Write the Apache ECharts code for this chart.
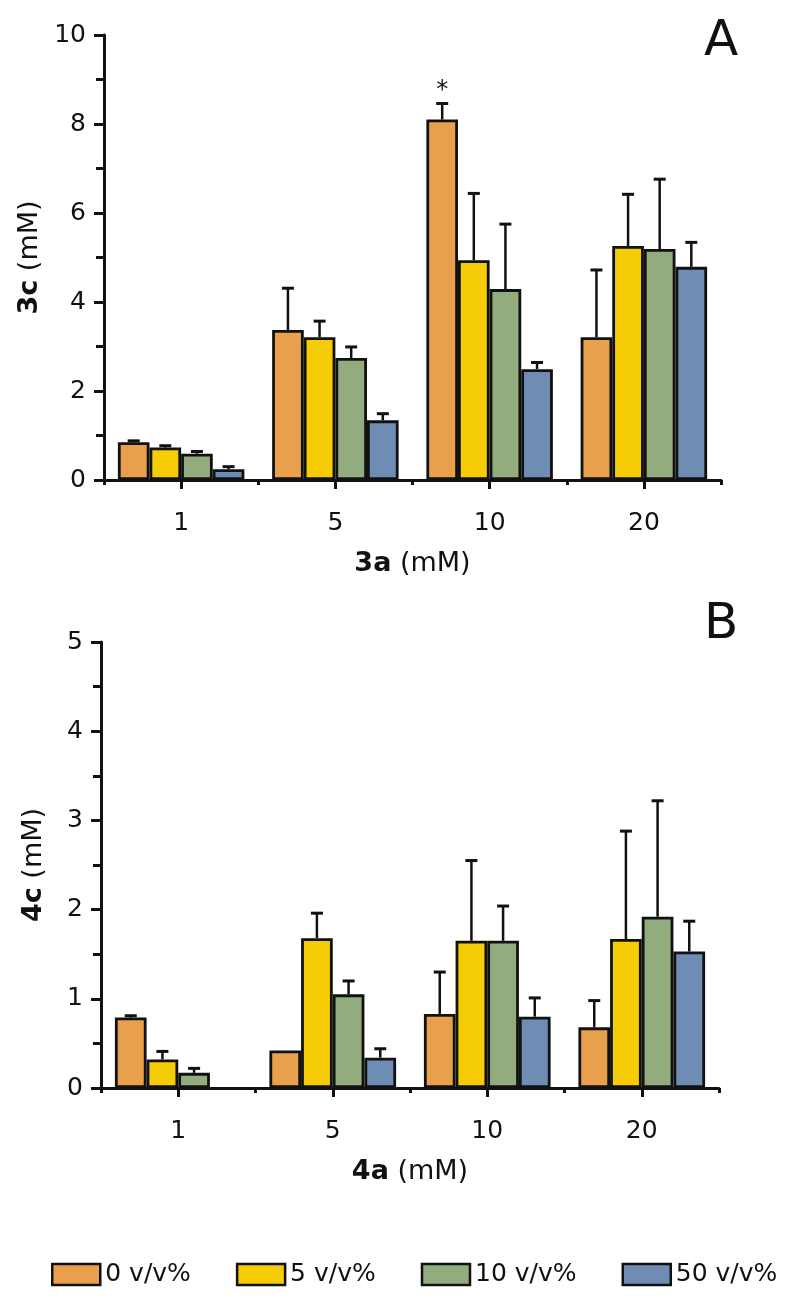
<!DOCTYPE html>
<html><head><meta charset="utf-8">
<script src="https://cdn.jsdelivr.net/npm/echarts@6/dist/echarts.min.js"></script>
<style>html,body{margin:0;padding:0;background:#fff}#c{width:800px;height:1301px}</style>
</head><body><div id="c"></div>
<script>
// ---- data ----
const categories = ['1', '5', '10', '20'];
const seriesNames = ['0 v/v%', '5 v/v%', '10 v/v%', '50 v/v%'];
const colors = ['#E8A04C', '#F5CC05', '#93AC7D', '#6F8DB4'];

// Panel A: 3c (mM) vs 3a (mM)
const a_0 = [0.85, 3.37, 8.10, 3.21];
const a_5 = [0.73, 3.21, 4.94, 5.26];
const a_10 = [0.59, 2.74, 4.29, 5.19];
const a_50 = [0.24, 1.34, 2.49, 4.79];
const aErr_0 = [0.03, 0.94, 0.36, 1.51];
const aErr_5 = [0.04, 0.36, 1.50, 1.16];
const aErr_10 = [0.05, 0.25, 1.46, 1.57];
const aErr_50 = [0.06, 0.15, 0.15, 0.55];
const aMarks_0 = ['', '', '*', ''];

// Panel B: 4c (mM) vs 4a (mM)
const b_0 = [0.79, 0.42, 0.83, 0.68];
const b_5 = [0.32, 1.68, 1.65, 1.67];
const b_10 = [0.17, 1.05, 1.65, 1.92];
const b_50 = [null, 0.34, 0.80, 1.53];
const bErr_0 = [0.02, 0, 0.47, 0.30];
const bErr_5 = [0.09, 0.28, 0.90, 1.21];
const bErr_10 = [0.05, 0.15, 0.39, 1.30];
const bErr_50 = [null, 0.10, 0.21, 0.34];

const aTicks = {min: 0, max: 10, interval: 2};
const bTicks = {min: 0, max: 5, interval: 1};

// ---- styling ----
const FONT = 'DejaVu Sans';
const INK = '#111';
const GAP = 0.18;

function errRender(vals, errs, marks, k) {
  return function (params, api) {
    const i = params.dataIndex;
    if (vals[i] == null || !errs[i]) return;
    const band = api.size([1, 0])[0];
    const bw = band * (1 - GAP) / 4;
    const base = api.coord([i, vals[i]]);
    const top = api.coord([i, vals[i] + errs[i]]);
    const x = base[0] + (k - 1.5) * bw;
    const children = [
      {type: 'line', shape: {x1: x, y1: base[1], x2: x, y2: top[1]}, style: {stroke: INK, lineWidth: 2.5}},
      {type: 'line', shape: {x1: x - 6, y1: top[1], x2: x + 6, y2: top[1]}, style: {stroke: INK, lineWidth: 3}}
    ];
    if (marks && marks[i]) {
      children.push({type: 'text', style: {text: marks[i], x: x, y: top[1] - 13, align: 'center', verticalAlign: 'middle', font: '24px ' + FONT, fill: INK}});
    }
    return {type: 'group', children: children};
  };
}

function yAx(grid, t, nameBold) {
  return {
    gridIndex: grid, type: 'value', min: t.min, max: t.max, interval: t.interval,
    name: '{b|' + nameBold + '} (mM)', nameLocation: 'middle', nameGap: 54, nameRotate: 90,
    nameTextStyle: {fontSize: 27, fontFamily: FONT, color: INK, rich: {b: {fontSize: 27, fontFamily: FONT, fontWeight: 'bold', color: INK}}},
    axisLine: {show: true, lineStyle: {color: INK, width: 3}},
    axisTick: {show: true, length: 10, lineStyle: {color: INK, width: 3}},
    minorTick: {show: true, splitNumber: 2, length: 8, lineStyle: {color: INK, width: 3}},
    axisLabel: {fontSize: 25, fontFamily: FONT, color: INK, margin: 18},
    splitLine: {show: false}
  };
}
function xAx(grid, nameBold) {
  return {
    gridIndex: grid, type: 'category', data: categories, position: 'bottom',
    name: '{b|' + nameBold + '} (mM)', nameLocation: 'middle', nameGap: 70,
    nameTextStyle: {fontSize: 27, fontFamily: FONT, color: INK, verticalAlign: 'top', rich: {b: {fontSize: 27, fontFamily: FONT, fontWeight: 'bold', color: INK}}},
    axisLine: {show: true, lineStyle: {color: INK, width: 3}},
    axisTick: {show: true, alignWithLabel: true, interval: 0, length: 9, lineStyle: {color: INK, width: 3}},
    axisLabel: {interval: 0, fontSize: 25, fontFamily: FONT, color: INK, margin: 31},
    splitLine: {show: false}
  };
}
function xAxBoundary(grid) {
  return {
    gridIndex: grid, type: 'category', data: categories, position: 'bottom',
    axisLine: {show: false},
    axisTick: {show: true, interval: 0, length: 5, lineStyle: {color: INK, width: 3}},
    axisLabel: {show: false}, splitLine: {show: false}
  };
}

const aVals = [a_0, a_5, a_10, a_50];
const aErrs = [aErr_0, aErr_5, aErr_10, aErr_50];
const bVals = [b_0, b_5, b_10, b_50];
const bErrs = [bErr_0, bErr_5, bErr_10, bErr_50];

const series = [];
[[aVals, aErrs, 0, 0, [aMarks_0]], [bVals, bErrs, 2, 1, []]].forEach(function (p) {
  const vals = p[0], errs = p[1], xi = p[2], yi = p[3], marks = p[4];
  vals.forEach(function (v, k) {
    series.push({
      type: 'bar', name: seriesNames[k], xAxisIndex: xi, yAxisIndex: yi,
      data: v, barGap: '0%', barCategoryGap: (GAP * 100) + '%',
      itemStyle: {color: colors[k], borderColor: INK, borderWidth: 2.8},
      z: 2
    });
  });
  vals.forEach(function (v, k) {
    series.push({
      type: 'custom', name: 'err' + xi + '_' + k, xAxisIndex: xi, yAxisIndex: yi,
      data: categories.map(function (c, i) { return [i, v[i] == null ? 0 : v[i]]; }),
      encode: {x: 0, y: 1},
      renderItem: errRender(v, errs[k], marks[k], k),
      z: 3, silent: true
    });
  });
});

const chart = echarts.init(document.getElementById('c'), null, {renderer: 'canvas'});
chart.setOption({
  animation: false,
  backgroundColor: '#fff',
  grid: [
    {left: 104, width: 617, top: 35, height: 445},
    {left: 101, width: 618, top: 642, height: 446}
  ],
  xAxis: [xAx(0, '3a'), xAxBoundary(0), xAx(1, '4a'), xAxBoundary(1)],
  yAxis: [yAx(0, aTicks, '3c'), yAx(1, bTicks, '4c')],
  title: [
    {text: 'A', left: 704, top: 17, padding: 0, textStyle: {fontSize: 50, fontWeight: 'normal', fontFamily: FONT, color: INK}},
    {text: 'B', left: 704, top: 600, padding: 0, textStyle: {fontSize: 50, fontWeight: 'normal', fontFamily: FONT, color: INK}}
  ],
  legend: {
    data: seriesNames, left: 51, top: 1262, itemWidth: 48, itemHeight: 21, itemGap: 45, padding: 0,
    icon: 'rect', itemStyle: {borderColor: INK, borderWidth: 2.5},
    textStyle: {fontSize: 25, fontFamily: FONT, color: INK}
  },
  series: series
});
</script></body></html>
